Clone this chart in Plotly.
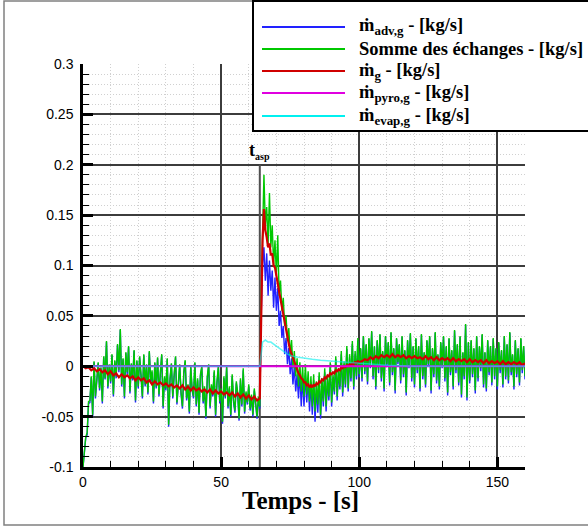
import plotly.graph_objects as go

# ---------------- data ----------------
T_ASP = 64.0
X_RANGE = [0, 160]
Y_RANGE = [-0.1, 0.3]

x_tick_vals = [0, 50, 100, 150]
x_tick_text = ["0", "50", "100", "150"]
y_tick_vals = [-0.1, -0.05, 0, 0.05, 0.1, 0.15, 0.2, 0.25, 0.3]
y_tick_text = ["-0.1", "-0.05", "0", "0.05", "0.1", "0.15", "0.2", "0.25", "0.3"]
x_title = "Temps - [s]"

series_names = [
    "ṁ<sub>adv,g</sub> - [kg/s]",
    "Somme des échanges - [kg/s]",
    "ṁ<sub>g</sub> - [kg/s]",
    "ṁ<sub>pyro,g</sub> - [kg/s]",
    "ṁ<sub>evap,g</sub> - [kg/s]",
]

# Somme des échanges, sampled every 0.5 s from t = 0 s
somme_0_10 = [-0.100, -0.085, -0.070, -0.066, -0.035, -0.034, -0.010, -0.048, 0.005, -0.030,
              -0.008, 0.004, -0.022, -0.001, -0.035, 0.010, -0.012, 0.025, -0.020, 0.002]
somme_10_20 = [-0.015, 0.012, -0.028, 0.006, -0.010, 0.022, -0.004, 0.037, -0.018, 0.008,
               -0.030, 0.014, -0.006, 0.020, -0.025, 0.003, -0.012, 0.016, -0.034, 0.006]
somme_20_30 = [-0.020, 0.010, -0.008, -0.030, 0.012, -0.018, 0.002, -0.026, 0.015, -0.014,
               -0.004, -0.035, 0.004, -0.020, 0.009, -0.028, -0.006, 0.012, -0.040, -0.010]
somme_30_40 = [-0.022, 0.008, -0.058, -0.012, 0.003, -0.030, -0.008, 0.010, -0.036, -0.015,
               0.002, -0.026, -0.040, -0.005, 0.006, -0.032, -0.018, -0.045, 0.000, -0.022]
somme_40_50 = [-0.030, 0.004, -0.038, -0.012, -0.046, -0.008, 0.000, -0.035, -0.020, -0.050,
               -0.010, 0.002, -0.040, -0.018, -0.028, -0.004, -0.048, -0.015, 0.000, -0.035]
somme_50_60 = [-0.022, -0.055, -0.010, -0.030, 0.000, -0.040, -0.020, -0.048, -0.008, -0.034,
               -0.044, -0.015, -0.026, -0.052, -0.012, -0.038, -0.002, -0.045, -0.025, -0.036]
somme_60_64 = [-0.018, -0.042, -0.028, -0.048, -0.022, -0.036, -0.050, -0.030, -0.040]
somme_peak = [0.070, 0.125, 0.190, 0.140, 0.158, 0.120, 0.172, 0.118, 0.140, 0.100,
              0.125, 0.090, 0.130, 0.070, 0.085, 0.055, 0.068, 0.040, 0.050, 0.025,
              0.038, 0.010, 0.026, -0.002, 0.015, -0.010, 0.008, -0.020, 0.004, -0.025,
              0.000, -0.030, 0.002, -0.028, -0.005, -0.035, -0.010, -0.040, -0.008, -0.045,
              -0.015, -0.038, -0.006, -0.048, -0.012, -0.035, -0.002, -0.040, -0.010, -0.030,
              0.004, -0.036, -0.008, -0.025, 0.010, -0.030, -0.002, -0.020, 0.015, -0.026,
              0.005, -0.018, 0.020, -0.022, 0.012, -0.012, 0.025, -0.020, 0.015, -0.010,
              0.028, -0.008]
somme_100_110 = [0.018, -0.012, 0.030, -0.005, 0.022, -0.015, 0.028, 0.000, 0.035, -0.010,
                 0.020, -0.020, 0.026, -0.004, 0.032, -0.012, 0.015, -0.022, 0.030, 0.002]
somme_110_120 = [0.024, -0.016, 0.034, -0.006, 0.018, -0.024, 0.028, 0.004, 0.022, -0.014,
                 0.030, -0.008, 0.016, -0.026, 0.026, 0.000, 0.033, -0.012, 0.020, -0.018]
somme_120_130 = [0.028, -0.004, 0.020, -0.022, 0.032, -0.010, 0.014, -0.018, 0.026, 0.002,
                 0.030, -0.024, 0.018, -0.008, 0.034, -0.014, 0.012, -0.020, 0.024, 0.000]
somme_130_140 = [0.030, -0.012, 0.020, -0.026, 0.028, -0.006, 0.016, -0.020, 0.036, -0.004,
                 0.022, -0.016, 0.030, -0.028, 0.014, -0.010, 0.042, -0.031, 0.024, -0.014]
somme_140_150 = [0.026, -0.008, 0.018, -0.024, 0.030, -0.012, 0.020, -0.002, 0.032, -0.018,
                 0.014, -0.022, 0.026, -0.006, 0.020, -0.016, 0.028, -0.010, 0.018, -0.020]
somme_150_160 = [0.024, -0.004, 0.016, -0.018, 0.030, -0.010, 0.022, -0.014, 0.034, -0.006,
                 0.012, -0.020, 0.026, -0.008, 0.018, -0.016, 0.028, -0.004, 0.020, -0.010]

# m_adv,g, sampled every 0.5 s from t = 0 s
adv_0_10 = [-0.100, -0.086, -0.071, -0.068, -0.037, -0.036, -0.011, -0.050, 0.004, -0.032,
            -0.009, 0.003, -0.024, -0.002, -0.037, 0.009, -0.013, 0.024, -0.022, 0.001]
adv_10_20 = [-0.017, 0.011, -0.030, 0.005, -0.012, 0.021, -0.006, 0.036, -0.020, 0.007,
             -0.032, 0.013, -0.008, 0.019, -0.027, 0.002, -0.014, 0.015, -0.036, 0.005]
adv_20_30 = [-0.022, 0.009, -0.010, -0.032, 0.011, -0.020, 0.001, -0.028, 0.014, -0.016,
             -0.006, -0.037, 0.003, -0.022, 0.008, -0.030, -0.008, 0.011, -0.042, -0.012]
adv_30_40 = [-0.024, 0.007, -0.060, -0.014, 0.002, -0.032, -0.010, 0.009, -0.038, -0.017,
             0.001, -0.028, -0.042, -0.007, 0.005, -0.034, -0.020, -0.047, -0.001, -0.024]
adv_40_50 = [-0.032, 0.003, -0.040, -0.014, -0.048, -0.010, -0.001, -0.037, -0.022, -0.052,
             -0.012, 0.001, -0.042, -0.020, -0.030, -0.006, -0.050, -0.017, -0.001, -0.037]
adv_50_60 = [-0.024, -0.057, -0.012, -0.032, -0.001, -0.042, -0.022, -0.050, -0.010, -0.036,
             -0.046, -0.017, -0.028, -0.054, -0.014, -0.040, -0.004, -0.047, -0.027, -0.038]
adv_60_64 = [-0.020, -0.044, -0.030, -0.050, -0.024, -0.038, -0.052, -0.032, -0.042]
adv_peak = [0.050, 0.100, 0.118, 0.085, 0.112, 0.070, 0.105, 0.075, 0.095, 0.058,
            0.088, 0.055, 0.078, 0.040, 0.055, 0.028, 0.040, 0.012, 0.028, 0.002,
            0.018, -0.008, 0.008, -0.018, 0.000, -0.025, -0.008, -0.032, -0.006, -0.040,
            -0.012, -0.040, -0.008, -0.036, -0.012, -0.045, -0.016, -0.048, -0.014, -0.055,
            -0.020, -0.046, -0.010, -0.052, -0.016, -0.040, -0.006, -0.045, -0.013, -0.034,
            0.001, -0.040, -0.011, -0.028, 0.007, -0.034, -0.005, -0.023, 0.012, -0.030,
            0.002, -0.021, 0.017, -0.025, 0.009, -0.015, 0.022, -0.023, 0.012, -0.013,
            0.025, -0.011]
adv_100_110 = [0.017, -0.015, 0.029, -0.008, 0.021, -0.018, 0.027, -0.002, 0.034, -0.013,
               0.019, -0.023, 0.025, -0.007, 0.031, -0.015, 0.014, -0.025, 0.029, 0.000]
adv_110_120 = [0.023, -0.019, 0.033, -0.009, 0.017, -0.027, 0.027, 0.002, 0.021, -0.017,
               0.029, -0.011, 0.015, -0.029, 0.025, -0.002, 0.032, -0.015, 0.019, -0.021]
adv_120_130 = [0.027, -0.007, 0.019, -0.025, 0.031, -0.013, 0.013, -0.021, 0.025, 0.000,
               0.029, -0.027, 0.017, -0.011, 0.033, -0.017, 0.011, -0.023, 0.023, -0.002]
adv_130_140 = [0.029, -0.015, 0.019, -0.029, 0.027, -0.009, 0.015, -0.023, 0.035, -0.007,
               0.021, -0.019, 0.029, -0.031, 0.013, -0.013, 0.041, -0.034, 0.023, -0.017]
adv_140_150 = [0.025, -0.011, 0.017, -0.027, 0.029, -0.015, 0.019, -0.005, 0.031, -0.021,
               0.013, -0.025, 0.025, -0.009, 0.019, -0.019, 0.027, -0.013, 0.017, -0.023]
adv_150_160 = [0.023, -0.007, 0.015, -0.021, 0.029, -0.013, 0.021, -0.017, 0.033, -0.009,
               0.011, -0.023, 0.025, -0.011, 0.017, -0.019, 0.027, -0.007, 0.019, -0.013]

# m_g : every 1 s for 0..64, every 0.5 s for 64.5..100, every 1 s for 101..160
mg_0_64 = [0.000, -0.002, -0.001, -0.004, -0.002, -0.005, -0.003, -0.006, -0.004, -0.008,
           -0.005, -0.009, -0.007, -0.011, -0.008, -0.011, -0.009, -0.012, -0.010, -0.014,
           -0.011, -0.014, -0.012, -0.016, -0.014, -0.018, -0.015, -0.018, -0.016, -0.019,
           -0.017, -0.020, -0.018, -0.021, -0.019, -0.022, -0.019, -0.023, -0.020, -0.024,
           -0.021, -0.024, -0.022, -0.025, -0.023, -0.026, -0.023, -0.027, -0.024, -0.027,
           -0.025, -0.028, -0.026, -0.029, -0.026, -0.030, -0.027, -0.031, -0.028, -0.032,
           -0.029, -0.033, -0.030, -0.034, -0.032]
mg_peak = [0.040, 0.125, 0.156, 0.135, 0.128, 0.118, 0.122, 0.110, 0.112, 0.100,
           0.098, 0.088, 0.082, 0.074, 0.066, 0.058, 0.050, 0.042, 0.034, 0.027,
           0.022, 0.016, 0.012, 0.007, 0.004, 0.000, -0.004, -0.007, -0.009, -0.012,
           -0.013, -0.016, -0.016, -0.019, -0.018, -0.021, -0.019, -0.021, -0.018, -0.020,
           -0.017, -0.018, -0.015, -0.016, -0.013, -0.014, -0.011, -0.012, -0.009, -0.010,
           -0.007, -0.008, -0.006, -0.007, -0.004, -0.005, -0.003, -0.004, -0.001, -0.002,
           0.000, -0.001, 0.001, 0.000, 0.002, 0.001, 0.003, 0.002, 0.004, 0.003,
           0.005, 0.004]
mg_101_160 = [0.005, 0.007, 0.006, 0.009, 0.007, 0.010, 0.008, 0.011, 0.009, 0.011,
              0.009, 0.012, 0.009, 0.011, 0.009, 0.011, 0.008, 0.010, 0.008, 0.010,
              0.008, 0.009, 0.007, 0.010, 0.007, 0.009, 0.006, 0.009, 0.006, 0.008,
              0.006, 0.008, 0.005, 0.008, 0.005, 0.007, 0.005, 0.007, 0.004, 0.007,
              0.004, 0.006, 0.004, 0.006, 0.003, 0.006, 0.003, 0.005, 0.003, 0.005,
              0.002, 0.005, 0.002, 0.004, 0.002, 0.004, 0.002, 0.004, 0.001, 0.003]

# m_pyro,g
pyro_t = [0, 160]
pyro = [0.0, 0.0]

# m_evap,g
evap_t = [0, 64, 64.5, 65, 65.5, 66, 67, 68, 69, 70, 71, 72, 73, 74, 75, 76, 78, 80,
          83, 86, 90, 95, 100, 105, 110, 115, 120, 160]
evap = [0.0, 0.0, 0.012, 0.024, 0.025, 0.026, 0.024, 0.024, 0.022, 0.020, 0.018, 0.016,
        0.014, 0.012, 0.011, 0.010, 0.009, 0.008, 0.007, 0.006, 0.005, 0.004, 0.003,
        0.002, 0.001, 0.0005, 0.0, 0.0]

# ---------------- assemble ----------------
somme = (somme_0_10 + somme_10_20 + somme_20_30 + somme_30_40 + somme_40_50 + somme_50_60
         + somme_60_64 + somme_peak + somme_100_110 + somme_110_120 + somme_120_130
         + somme_130_140 + somme_140_150 + somme_150_160)
adv = (adv_0_10 + adv_10_20 + adv_20_30 + adv_30_40 + adv_40_50 + adv_50_60
       + adv_60_64 + adv_peak + adv_100_110 + adv_110_120 + adv_120_130
       + adv_130_140 + adv_140_150 + adv_150_160)
t_half = [0.5 * i for i in range(len(somme))]
t_adv = [0.5 * i for i in range(len(adv))]

mg = mg_0_64 + mg_peak + mg_101_160
t_mg = ([float(i) for i in range(len(mg_0_64))]
        + [64.5 + 0.5 * i for i in range(len(mg_peak))]
        + [101.0 + i for i in range(len(mg_101_160))])

colors = ["#2222ff", "#00c800", "#d00000", "#e000e0", "#00f0f0"]

fig = go.Figure()
fig.add_trace(go.Scatter(x=t_adv, y=adv, mode="lines", name=series_names[0],
                         line=dict(color=colors[0], width=1.4)))
fig.add_trace(go.Scatter(x=t_half, y=somme, mode="lines", name=series_names[1],
                         line=dict(color=colors[1], width=1.4)))
fig.add_trace(go.Scatter(x=t_mg, y=mg, mode="lines", name=series_names[2],
                         line=dict(color=colors[2], width=2.2)))
fig.add_trace(go.Scatter(x=pyro_t, y=pyro, mode="lines", name=series_names[3],
                         line=dict(color=colors[3], width=2)))
fig.add_trace(go.Scatter(x=evap_t, y=evap, mode="lines", name=series_names[4],
                         line=dict(color=colors[4], width=1.6), opacity=0.6))

# ---------------- layout ----------------
L, T, W, H = 83, 64, 442, 403
FIG_W, FIG_H = 588, 527


def px(x):
    return (x - L) / W


def py(y):
    return (T + H - y) / H


tick_font = dict(family="Liberation Sans, Arial, sans-serif", size=14, color="black")
serif_bold = "Liberation Serif, Times New Roman, serif"

fig.update_layout(
    width=FIG_W, height=FIG_H,
    margin=dict(l=L, r=FIG_W - L - W, t=T, b=FIG_H - T - H, pad=0),
    paper_bgcolor="white", plot_bgcolor="white",
    showlegend=False,
)
fig.update_xaxes(
    range=X_RANGE, tickmode="array", tickvals=x_tick_vals, ticktext=x_tick_text,
    ticks="inside", ticklen=10, tickwidth=2.5, tickcolor="black",
    showline=True, linecolor="black", linewidth=2.5,
    showgrid=True, gridcolor="#3c3c3c", gridwidth=1.5, zeroline=False,
    tickfont=tick_font,
    minor=dict(tickmode="linear", tick0=0, dtick=10, ticks="inside", ticklen=6,
               tickwidth=1.3, tickcolor="black", showgrid=True,
               gridcolor="#d0d0d0", griddash="1px,2px", gridwidth=1),
)
fig.update_yaxes(
    range=Y_RANGE, tickmode="array", tickvals=y_tick_vals, ticktext=y_tick_text,
    ticks="inside", ticklen=10, tickwidth=2.5, tickcolor="black",
    showline=True, linecolor="black", linewidth=2.5,
    showgrid=True, gridcolor="#3c3c3c", gridwidth=1.5, zeroline=False,
    tickfont=tick_font, ticklabelstandoff=4,
    minor=dict(tickmode="linear", tick0=0, dtick=0.01, ticks="inside", ticklen=6,
               tickwidth=1.3, tickcolor="black", showgrid=True,
               gridcolor="#d0d0d0", griddash="1px,2px", gridwidth=1),
)

shapes = []
# t_asp marker line
shapes.append(dict(type="line", xref="x", yref="y", x0=T_ASP, x1=T_ASP,
                   y0=Y_RANGE[0], y1=0.2, line=dict(color="#505050", width=2),
                   layer="between"))
# outer frame
shapes.append(dict(type="rect", xref="paper", yref="paper", x0=px(4), x1=px(600),
                   y0=py(525), y1=py(1), line=dict(color="#808080", width=1.5),
                   fillcolor="rgba(0,0,0,0)", layer="above"))
# legend box
shapes.append(dict(type="rect", xref="paper", yref="paper", x0=px(253), x1=px(600),
                   y0=py(131), y1=py(1), line=dict(color="black", width=2),
                   fillcolor="white", layer="above"))
annotations = []
legend_rows = [27, 49, 71, 93, 116]
for i, row in enumerate(legend_rows):
    shapes.append(dict(type="line", xref="paper", yref="paper", x0=px(262), x1=px(345),
                       y0=py(row), y1=py(row), line=dict(color=colors[i], width=2),
                       layer="above"))
    annotations.append(dict(xref="paper", yref="paper", x=px(357), y=py(row),
                            xanchor="left", yanchor="middle", showarrow=False,
                            text="<b>" + series_names[i] + "</b>",
                            font=dict(family=serif_bold, size=18.5, color="black")))

annotations.append(dict(xref="x", yref="y", x=T_ASP, y=0.2, xanchor="center",
                        yanchor="bottom", yshift=1, showarrow=False,
                        text="<b>t<sub><span style='font-size:10px'>asp</span></sub></b>",
                        font=dict(family=serif_bold, size=18, color="black")))

# x-axis title
annotations.append(dict(xref="paper", yref="paper", x=px(300), y=py(501),
                        xanchor="center", yanchor="middle", showarrow=False,
                        text="<b>" + x_title + "</b>",
                        font=dict(family=serif_bold, size=25, color="black")))

fig.update_layout(shapes=shapes, annotations=annotations)

fig.write_html("out.html", config={"displayModeBar": False},
               post_script="document.body.style.margin='0';document.body.style.overflow='hidden';")
